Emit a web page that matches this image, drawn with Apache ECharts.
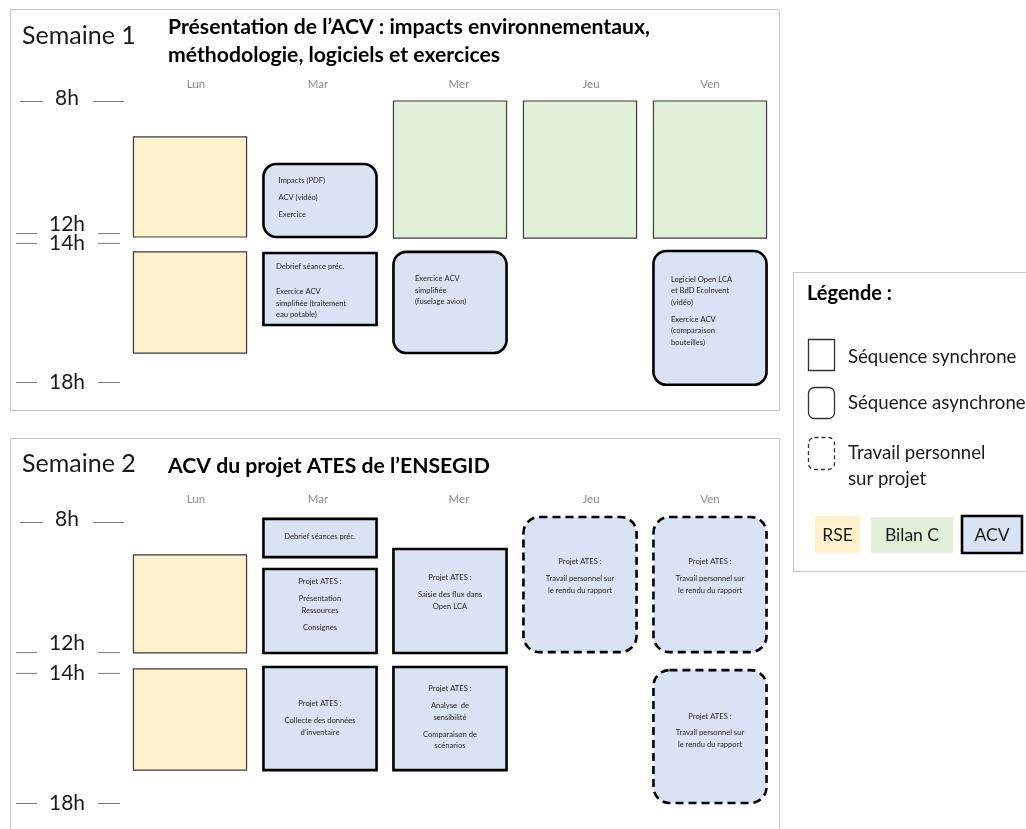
<!DOCTYPE html>
<html><head><meta charset="utf-8">
<script src="https://cdn.jsdelivr.net/npm/echarts@6/dist/echarts.min.js"></script>
<style>html,body{margin:0;padding:0;background:#fff}#c{width:1026px;height:829px}</style>
</head><body><div id="c"></div>
<script>
// ---------------- DATA ----------------
const days = ['Lun', 'Mar', 'Mer', 'Jeu', 'Ven'];
const hourLabels = ['8h', '12h', '14h', '18h'];
const week1HourPos = [8, 12.70, 13.05, 18];
const week2HourPos = [8, 12.63, 13.37, 18];

// [day index, start, end, theme, mode]
const week1Blocks = [
  [0, 9.28, 12.84, 'RSE', 'sync'],
  [0, 13.37, 16.97, 'RSE', 'sync'],
  [1, 10.24, 12.84, 'ACV', 'async'],
  [1, 13.41, 15.97, 'ACV', 'sync'],
  [2, 8.00, 12.88, 'BilanC', 'sync'],
  [2, 13.37, 16.97, 'ACV', 'async'],
  [3, 8.00, 12.88, 'BilanC', 'sync'],
  [4, 8.00, 12.88, 'BilanC', 'sync'],
  [4, 13.34, 18.10, 'ACV', 'async']
];
const week1Texts = [
  [], [],
  [['Impacts (PDF)'], ['ACV (vidéo)'], ['Exercice']],
  [['Debrief séance préc.'], ['Exercice ACV', 'simplifiée (traitement', 'eau potable)']],
  [],
  [['Exercice ACV', 'simplifiée', '(fuselage avion)']],
  [], [],
  [['Logiciel Open LCA', 'et BdD EcoInvent', '(vidéo)'], ['Exercice ACV', '(comparaison', 'bouteilles)']]
];

const week2Blocks = [
  [0, 9.17, 12.66, 'RSE', 'sync'],
  [0, 13.23, 16.83, 'RSE', 'sync'],
  [1, 7.89, 9.25, 'ACV', 'sync'],
  [1, 9.67, 12.66, 'ACV', 'sync'],
  [1, 13.16, 16.83, 'ACV', 'sync'],
  [2, 8.96, 12.66, 'ACV', 'sync'],
  [2, 13.16, 16.83, 'ACV', 'sync'],
  [3, 7.82, 12.63, 'ACV', 'perso'],
  [4, 7.82, 12.63, 'ACV', 'perso'],
  [4, 13.27, 18.00, 'ACV', 'perso']
];
const week2Texts = [
  [], [],
  [['Debrief séances préc.']],
  [['Projet ATES :'], ['Présentation', 'Ressources'], ['Consignes']],
  [['Projet ATES :'], ['Collecte des données', 'd’inventaire']],
  [['Projet ATES :'], ['Saisie des flux dans', 'Open LCA']],
  [['Projet ATES :'], ['Analyse  de', 'sensibilité'], ['Comparaison de', 'scénarios']],
  [['Projet ATES :'], ['Travail personnel sur', 'le rendu du rapport']],
  [['Projet ATES :'], ['Travail personnel sur', 'le rendu du rapport']],
  [['Projet ATES :'], ['Travail personnel sur', 'le rendu du rapport']]
];

const weekTitles = ['Semaine 1', 'Semaine 2'];
const weekSubjects = ['Présentation de l’ACV : impacts environnementaux,\nméthodologie, logiciels et exercices', 'ACV du projet ATES de l’ENSEGID'];

// ---------------- STYLE ----------------
const FONT = 'Lato, "Open Sans", sans-serif';
const themeFill = { RSE: '#FFF2CC', BilanC: '#E2F0D9', ACV: '#DAE3F3' };
const week1TextLayout = { 2: {dx: 15, dy: 16.7}, 3: {dx: 12.5, dy: 13.7, gap: 13.5}, 5: {dx: 21.5, dy: 26.7}, 8: {dx: 17.5, dy: 28} };
const week2TextLayout = { 2: {dy: 18}, 3: {dy: 13}, 4: {dy: 37}, 5: {dy: 29}, 6: {dy: 22}, 7: {dy: 45}, 8: {dy: 45}, 9: {dy: 46} };
const hourTextDy = { '8h': -3, '12h': -9, '14h': 0, '18h': 0 };
const dayLabelPad = [[0, 0, 0, 12], [0, 4, 0, 0], [0, 0, 0, 18], [0, 0, 0, 22], [0, 0, 0, 0]];
const LINE_H = 11.6, PARA_GAP = 5.2;

function blockSeries(blocks, texts, layout, gridIdx, alignLeft) {
  return {
    type: 'custom', xAxisIndex: gridIdx, yAxisIndex: gridIdx, clip: false, z: 5,
    data: blocks.map(b => [b[0], b[1], b[2]]),
    encode: { x: 0, y: [1, 2] },
    renderItem(params, api) {
      const b = blocks[params.dataIndex];
      const p0 = api.coord([api.value(0), api.value(1)]);
      const p1 = api.coord([api.value(0), api.value(2)]);
      const w = api.size([1, 0])[0] * 0.87;
      const x = p0[0] - w / 2, y = p0[1], h = p1[1] - p0[1];
      const acv = b[3] === 'ACV';
      const rectStyle = {
        fill: themeFill[b[3]],
        stroke: acv ? '#000' : '#3a3a3a',
        lineWidth: acv ? 2.6 : 1.2
      };
      let r = 0;
      if (b[4] === 'async') r = 13;
      if (b[4] === 'perso') { r = 16; rectStyle.lineDash = [8, 5]; }
      const children = [{ type: 'rect', shape: { x, y, width: w, height: h, r }, style: rectStyle }];
      const paras = texts[params.dataIndex] || [];
      const lay = layout[params.dataIndex] || {};
      let ty = y + (lay.dy || 0);
      const gap = lay.gap != null ? lay.gap : PARA_GAP;
      paras.forEach((para, pi) => {
        if (pi > 0) ty += gap;
        para.forEach(line => {
          children.push({
            type: 'text',
            style: {
              text: line, x: alignLeft ? x + lay.dx : x + w / 2, y: ty,
              font: '7.6px ' + FONT, fill: '#262626',
              textAlign: alignLeft ? 'left' : 'center', align: alignLeft ? 'left' : 'center',
              textVerticalAlign: 'middle', verticalAlign: 'middle'
            }
          });
          ty += LINE_H;
        });
      });
      return { type: 'group', children };
    }
  };
}

function hourSeries(pos, gridIdx) {
  return {
    type: 'custom', xAxisIndex: gridIdx, yAxisIndex: gridIdx, clip: false, z: 3,
    data: pos.map((v, i) => [0, v, i]),
    encode: { x: 0, y: 1 },
    renderItem(params, api) {
      const p = api.coord([0, api.value(1)]);
      const label = hourLabels[params.dataIndex];
      const cx = p[0], y = p[1];
      const first = params.dataIndex === 0;
      const l0 = first ? cx - 170 : cx - 174, l1 = first ? cx - 147 : cx - 153;
      const r0 = first ? cx - 97 : cx - 92, r1 = first ? cx - 66 : cx - 70;
      const ls = { stroke: '#7a7a7a', lineWidth: 1 };
      return { type: 'group', children: [
        { type: 'line', shape: { x1: l0, y1: y + 0.5, x2: l1, y2: y + 0.5 }, style: ls },
        { type: 'line', shape: { x1: r0, y1: y + 0.5, x2: r1, y2: y + 0.5 }, style: ls },
        { type: 'text', style: { text: label, x: cx - 123, y: y + hourTextDy[label], font: '21px ' + FONT, fill: '#1a1a1a',
            textAlign: 'center', align: 'center', textVerticalAlign: 'middle', verticalAlign: 'middle' } }
      ] };
    }
  };
}

const chart = echarts.init(document.getElementById('c'), null, { renderer: 'canvas' });

const dayRich = {};
dayLabelPad.forEach((p, i) => { dayRich['d' + i] = { padding: p, color: '#8c8c8c', fontFamily: FONT, fontSize: 11.5 }; });

const axisCommon = (gi, margin) => ({
  type: 'category', gridIndex: gi, data: days, position: 'top',
  axisLine: { show: false }, axisTick: { show: false }, splitLine: { show: false },
  axisLabel: { color: '#8c8c8c', fontFamily: FONT, fontSize: 11.5, margin,
    formatter: (v, i) => '{d' + i + '|' + v + '}', rich: dayRich }
});
const yCommon = gi => ({ type: 'value', gridIndex: gi, min: 8, max: 18, inverse: true, show: false });

const titleStyle = { fontFamily: FONT, fontSize: 25, fontWeight: 'normal', color: '#1a1a1a' };
const subStyle = { fontFamily: FONT, fontSize: 21.2, fontWeight: 'bold', color: '#000', lineHeight: 28 };

const legendText = (t, x, y) => ({ type: 'text', style: { text: t, x, y, font: '18.6px ' + FONT, fill: '#1a1a1a', textVerticalAlign: 'middle', verticalAlign: 'middle' } });
const tagText = (t, x, y) => ({ type: 'text', style: { text: t, x, y, font: '17.5px ' + FONT, fill: '#1a1a1a', textAlign: 'center', align: 'center', textVerticalAlign: 'middle', verticalAlign: 'middle' } });

const option = {
  backgroundColor: '#fff',
  animation: false,
  title: [
    { text: weekTitles[0], left: 22, top: 23, padding: 0, textStyle: titleStyle },
    { text: weekSubjects[0], left: 168, top: 13, padding: 0, textStyle: subStyle },
    { text: weekTitles[1], left: 22, top: 451, padding: 0, textStyle: titleStyle },
    { text: weekSubjects[1], left: 168, top: 452, padding: 0, textStyle: subStyle }
  ],
  grid: [
    { left: 125, width: 650, top: 101, height: 281 },
    { left: 125, width: 650, top: 522, height: 281 }
  ],
  xAxis: [axisCommon(0, 10.5), axisCommon(1, 16.5)],
  yAxis: [yCommon(0), yCommon(1)],
  graphic: [
    { type: 'rect', z: 0, shape: { x: 10.5, y: 9.5, width: 769, height: 401 }, style: { fill: '#fff', stroke: '#c6c6c6', lineWidth: 1 } },
    { type: 'rect', z: 0, shape: { x: 10.5, y: 438.5, width: 769, height: 400 }, style: { fill: '#fff', stroke: '#c6c6c6', lineWidth: 1 } },
    { type: 'group', z: 10, children: [
      { type: 'rect', shape: { x: 793.5, y: 272.5, width: 240, height: 299 }, style: { fill: '#fff', stroke: '#c6c6c6', lineWidth: 1 } },
      { type: 'text', style: { text: 'Légende :', x: 807, y: 294, font: 'bold 20px ' + FONT, fill: '#000', textVerticalAlign: 'middle', verticalAlign: 'middle' } },
      { type: 'rect', shape: { x: 808.5, y: 339.5, width: 26, height: 31 }, style: { fill: 'none', stroke: '#333', lineWidth: 1.3 } },
      legendText('Séquence synchrone', 848, 357),
      { type: 'rect', shape: { x: 808.5, y: 387.5, width: 26, height: 31, r: 6 }, style: { fill: 'none', stroke: '#333', lineWidth: 1.3 } },
      legendText('Séquence asynchrone', 848, 403),
      { type: 'rect', shape: { x: 808.5, y: 437.5, width: 26, height: 32, r: 6 }, style: { fill: 'none', stroke: '#333', lineWidth: 1.3, lineDash: [4, 3] } },
      legendText('Travail personnel', 848, 453),
      legendText('sur projet', 848, 479),
      { type: 'rect', shape: { x: 815, y: 516, width: 45, height: 37 }, style: { fill: themeFill.RSE } },
      tagText('RSE', 837.5, 535),
      { type: 'rect', shape: { x: 871, y: 517, width: 82, height: 36 }, style: { fill: themeFill.BilanC } },
      tagText('Bilan C', 912, 535),
      { type: 'rect', shape: { x: 962, y: 516, width: 60, height: 37 }, style: { fill: themeFill.ACV, stroke: '#000', lineWidth: 2.6 } },
      tagText('ACV', 992, 535)
    ] }
  ],
  series: [
    hourSeries(week1HourPos, 0),
    hourSeries(week2HourPos, 1),
    blockSeries(week1Blocks, week1Texts, week1TextLayout, 0, true),
    blockSeries(week2Blocks, week2Texts, week2TextLayout, 1, false)
  ]
};
chart.setOption(option);
</script></body></html>
